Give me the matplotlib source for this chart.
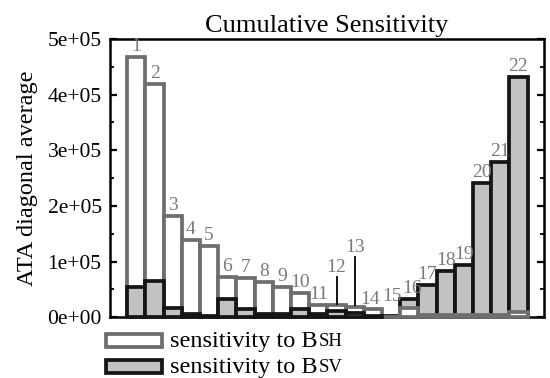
import matplotlib
matplotlib.use('Agg')
import matplotlib.pyplot as plt
from matplotlib.patches import Rectangle
from matplotlib.ticker import MultipleLocator
import numpy as np

plt.rcParams['font.family'] = ['Liberation Serif', 'DejaVu Serif']

# bar numbers and the two sensitivities (ATA diagonal average)
bar_ids = list(range(1, 23))
sens_bsh = [4.68e5, 4.19e5, 1.82e5, 1.38e5, 1.28e5, 0.72e5, 0.70e5, 0.63e5, 0.54e5, 0.43e5, 0.22e5,
            0.21e5, 0.18e5, 0.14e5, 0.01e5, 0.16e5, 0.03e5, 0.03e5, 0.03e5, 0.04e5, 0.03e5, 0.10e5]
sens_bsv = [0.54e5, 0.65e5, 0.17e5, 0.05e5, 0.02e5, 0.33e5, 0.14e5, 0.05e5, 0.05e5, 0.15e5, 0.05e5,
            0.11e5, 0.07e5, 0.02e5, 0.02e5, 0.32e5, 0.58e5, 0.83e5, 0.93e5, 2.41e5, 2.79e5, 4.32e5]
legend_labels = [('sensitivity to B', 'SH'), ('sensitivity to B', 'SV')]

edge_gray = '#6e6e6e'
fill_gray = '#c2c2c2'
label_gray = '#7a7a7a'

fig = plt.figure(figsize=(5.5, 3.78), dpi=100)
ax = fig.add_axes([0.2, 0.161, 0.789, 0.736])

x = np.array(bar_ids)
bars_h = ax.bar(x, sens_bsh, width=1.0, color='white', edgecolor=edge_gray, linewidth=2.7, clip_on=False)
bars_v = ax.bar(x, sens_bsv, width=1.0, color=fill_gray, edgecolor='#151515', linewidth=2.7, clip_on=False)

# the smaller bar of each pair sits in front
for ph, pv, h, v in zip(bars_h, bars_v, sens_bsh, sens_bsv):
    if h >= v:
        ph.set_zorder(3)
        pv.set_zorder(4)
    else:
        pv.set_zorder(3)
        ph.set_zorder(4)

# number labels above bars
lab_fs = 14
for i, h, v in zip(bar_ids, sens_bsh, sens_bsv):
    top = max(h, v)
    if i == 12:
        ax.plot([i, i], [top + 0.03e5, 0.72e5], color='black', lw=1.3, zorder=5)
        ax.text(i, 0.74e5, str(i), ha='center', va='bottom', color=label_gray, fontsize=lab_fs)
    elif i == 13:
        ax.plot([i, i], [top + 0.03e5, 1.08e5], color='black', lw=1.3, zorder=5)
        ax.text(i, 1.10e5, str(i), ha='center', va='bottom', color=label_gray, fontsize=lab_fs)
    elif i == 14:
        ax.text(i - 0.15, top + 0.03e5, str(i), ha='center', va='bottom', color=label_gray, fontsize=lab_fs)
    elif i == 15:
        ax.text(i + 0.03, 0.21e5, str(i), ha='center', va='bottom', color=label_gray, fontsize=lab_fs)
    elif i == 16:
        ax.text(i + 0.15, top + 0.04e5, str(i), ha='center', va='bottom', color=label_gray, fontsize=lab_fs)
    else:
        ax.text(i, top + 0.04e5, str(i), ha='center', va='bottom', color=label_gray, fontsize=lab_fs)

ax.set_xlim(-0.45, 23.4)
ax.set_ylim(0, 5e5)
ax.set_xticks([])
ax.yaxis.set_minor_locator(MultipleLocator(0.5e5))
ax.set_yticks(np.arange(0, 6) * 1e5)
ax.set_yticklabels(['%de+05' % k if k else '0e+00' for k in range(6)], fontsize=15.5)
ax.tick_params(axis='y', which='major', direction='in', length=5, width=1.6, right=True, pad=6)
ax.tick_params(axis='y', which='minor', direction='in', length=3, width=1.3, right=True)
for s in ax.spines.values():
    s.set_linewidth(1.8)
    s.set_zorder(2)

ax.set_title('Cumulative Sensitivity', fontsize=19, pad=5)
ax.set_ylabel('ATA diagonal average', fontsize=17.5, labelpad=7)

# hand-made legend below the axes (small caps subscripts)
fig.canvas.draw()
renderer = fig.canvas.get_renderer()
styles = [('white', edge_gray), (fill_gray, '#151515')]
for k, ((main, caps), (fc, ec)) in enumerate(zip(legend_labels, styles)):
    y0 = 1 - (347 + k * 26) / 378
    fig.patches.append(Rectangle((106 / 550, y0), 56 / 550, 13 / 378, transform=fig.transFigure,
                                 facecolor=fc, edgecolor=ec, linewidth=2.7, figure=fig))
    t = fig.text(170 / 550, y0 + 0.5 / 378, main, fontsize=17.5, va='baseline')
    bb = t.get_window_extent(renderer)
    fig.text(bb.x1 / 550 + 0.002, y0 + 0.5 / 378, caps, fontsize=13.5, va='baseline')

fig.savefig('out.png', dpi=100)
